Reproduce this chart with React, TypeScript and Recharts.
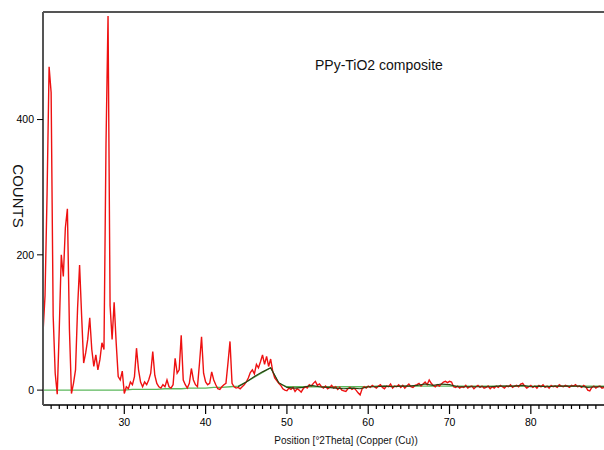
import { LineChart, Line, XAxis, YAxis } from "recharts";

// measured pattern, 20..89 °2θ in 0.25° steps
const START_ANGLE = 20;
const STEP = 0.25;
const counts = [
  84, 140, 290, 478, // 20
  440, 110, 25, -6,
  90, 200, 168, 240,
  268, 90, -5, 10,
  30, 120, 185, 110,
  40, 55, 75, 107, // 25
  60, 35, 52, 30,
  45, 70, 60, 365,
  553, 125, 75, 130,
  70, 20, 15, 28,
  -5, 5, 2, 12, // 30
  8, 20, 62, 30,
  12, 5, 12, 8,
  15, 25, 57, 22,
  10, 5, 3, 8,
  5, 15, 5, 3, // 35
  8, 47, 25, 30,
  81, 15, 8, 3,
  10, 32, 15, 8,
  5, 40, 79, 25,
  12, 8, 10, 27, // 40
  15, 8, 2, 1,
  5, 8, 10, 40,
  72, 10, 5, 3,
  4, 2, 5, 8,
  12, 18, 26, 30, // 45
  24, 38, 33, 42,
  52, 38, 50, 35,
  46, 28, 18, 14,
  10, 7, 2, 0,
  -1, 3, 1, 4, // 50
  -2, 2, 0, -3,
  2, 5, 3, 8,
  6, 10, 13, 7,
  9, 5, 3, 6,
  2, 4, 7, 3, // 55
  5, 1, 4, 0,
  -1, -2, 2, 4,
  1, 3, 0, -4,
  -7, 2, 5, 3,
  6, 4, 7, 5, // 60
  3, 6, 8, 4,
  2, 6, 5, 9,
  3, 6, 5, 8,
  4, 7, 3, 6,
  9, 5, 4, 7, // 65
  8, 10, 6, 9,
  12, 8, 15, 10,
  7, 5, 8, 6,
  9, 12, 13, 11,
  13, 12, 5, 4, // 70
  6, 3, 5, 4,
  7, 3, 5, 6,
  2, 5, 7, 4,
  6, 3, 4, 6,
  2, 5, 3, 6, // 75
  4, 7, 5, 3,
  6, 5, 8, 4,
  6, 7, 5, 9,
  10, 6, 3, 5,
  7, 4, 6, 3, // 80
  7, 5, 8, 4,
  6, 3, 7, 5,
  6, 4, 8, 6,
  5, 7, 6, 4,
  7, 6, 8, 5, // 85
  6, 4, 7, 5,
  0, -1, 4, 6,
  3, 5, 6, 3,
  4,
];

// background curve, 1° steps from 20°
const background = [
  0, 0, 0, 0, 0, 0, 0, 0, 0, 0,
  0, 1, 1, 1, 1, 2, 2, 2, 3, 3,
  3, 4, 4, 5, 6, 12, 19, 26, 33, 10,
  5, 5, 5, 5, 5, 5, 5, 5, 5, 5,
  5, 6, 6, 6, 6, 6, 6, 6, 6, 6,
  6, 6, 6, 6, 6, 6, 6, 6, 6, 6,
  6, 6, 6, 6, 6, 6, 6, 6, 6, 6,
];

// calculated profile, 1° steps from 44°
const PROFILE_START = 44;
const profile = [
  5, 12, 20, 27, 33, 11, 4, 3, 4, 7,
  5, 4, 3, 2, 3, 2, 5, 5, 6, 5,
  6, 6, 7, 9, 7, 9, 8, 5, 5, 5,
  5, 5, 6, 6, 6, 7, 5, 6, 5, 6,
  6, 6, 6, 4, 5, 5,
];

// reference-pattern marks on the top frame
const refMarks = [20.5, 22.7, 24.5, 25.8, 27.9, 29.8, 31.9, 33.5, 35.4, 36.6, 39.9, 41.1, 43.0];

const yTicks = [0, 200, 400];
const minorTicks = Array.from({ length: 68 }, (_, i) => 21 + i);

const patternData = counts.map((c, i) => ({ angle: START_ANGLE + i * STEP, counts: c }));
const bgData = background.map((c, i) => ({ angle: START_ANGLE + i, counts: c }));
const profileData = profile.map((c, i) => ({ angle: PROFILE_START + i, counts: c }));

const FONT = "'Liberation Sans', Arial, sans-serif";

const AngleTick = ({ x, y, payload }: any) => {
  const major = payload.value % 10 === 0;
  return (
    <g>
      <line x1={x} y1={y} x2={x} y2={y + (major ? 9 : 4)} stroke="#000" strokeWidth={1.2} />
      {major && (
        <text x={x} y={y + 21} textAnchor="middle" fontSize={10.5} fill="#000" fontFamily={FONT}>
          {payload.value}
        </text>
      )}
    </g>
  );
};

const RefTick = ({ x, y }: any) => (
  <line x1={x - 2} y1={y} x2={x + 2} y2={y} stroke="#e0a050" strokeWidth={2} />
);

export default function App() {
  return (
    <div style={{ position: "absolute", left: 0, top: 0, width: 604, height: 450, background: "#fff" }}>
      <LineChart width={604} height={450} margin={{ top: 0, right: 0, bottom: 0, left: 0 }}>
        <XAxis
          dataKey="angle"
          type="number"
          domain={[20, 89]}
          allowDataOverflow
          ticks={minorTicks}
          interval={0}
          tickSize={0}
          tickMargin={0}
          tick={<AngleTick />}
          height={45}
          axisLine={{ stroke: "#000", strokeWidth: 1.5 }}
        />
        <XAxis
          xAxisId="top"
          orientation="top"
          type="number"
          domain={[20, 89]}
          allowDataOverflow
          ticks={refMarks}
          interval={0}
          tickSize={0}
          tickMargin={0}
          tick={<RefTick />}
          height={12}
          axisLine={{ stroke: "#555", strokeWidth: 2 }}
        />
        <YAxis
          type="number"
          domain={[-22, 559]}
          allowDataOverflow
          ticks={yTicks}
          width={43}
          tickSize={6}
          tickMargin={3}
          tick={{ fontSize: 10.5, fill: "#000", fontFamily: FONT }}
          tickLine={{ stroke: "#000" }}
          axisLine={{ stroke: "#555", strokeWidth: 2 }}
        />
        <Line data={bgData} dataKey="counts" stroke="#5cb85c" strokeWidth={1.3} dot={false} isAnimationActive={false} />
        <Line data={patternData} dataKey="counts" stroke="#ee1111" strokeWidth={1.4} dot={false} isAnimationActive={false} />
        <Line data={profileData} dataKey="counts" stroke="#2a4012" strokeWidth={1.2} dot={false} isAnimationActive={false} />
      </LineChart>
      <div
        style={{
          position: "absolute",
          left: 315,
          top: 57,
          fontFamily: FONT,
          fontSize: 14,
          lineHeight: "16px",
          color: "#111",
          whiteSpace: "nowrap",
        }}
      >
        PPy-TiO2 composite
      </div>
      <div
        style={{
          position: "absolute",
          left: 18,
          top: 196,
          transform: "translate(-50%, -50%) rotate(90deg)",
          fontFamily: FONT,
          fontSize: 15,
          lineHeight: "16px",
          color: "#111",
          whiteSpace: "nowrap",
        }}
      >
        COUNTS
      </div>
      <div
        style={{
          position: "absolute",
          left: 346,
          top: 441,
          transform: "translate(-50%, -50%)",
          fontFamily: FONT,
          fontSize: 10,
          lineHeight: "12px",
          color: "#111",
          whiteSpace: "nowrap",
        }}
      >
        Position [°2Theta] (Copper (Cu))
      </div>
    </div>
  );
}
